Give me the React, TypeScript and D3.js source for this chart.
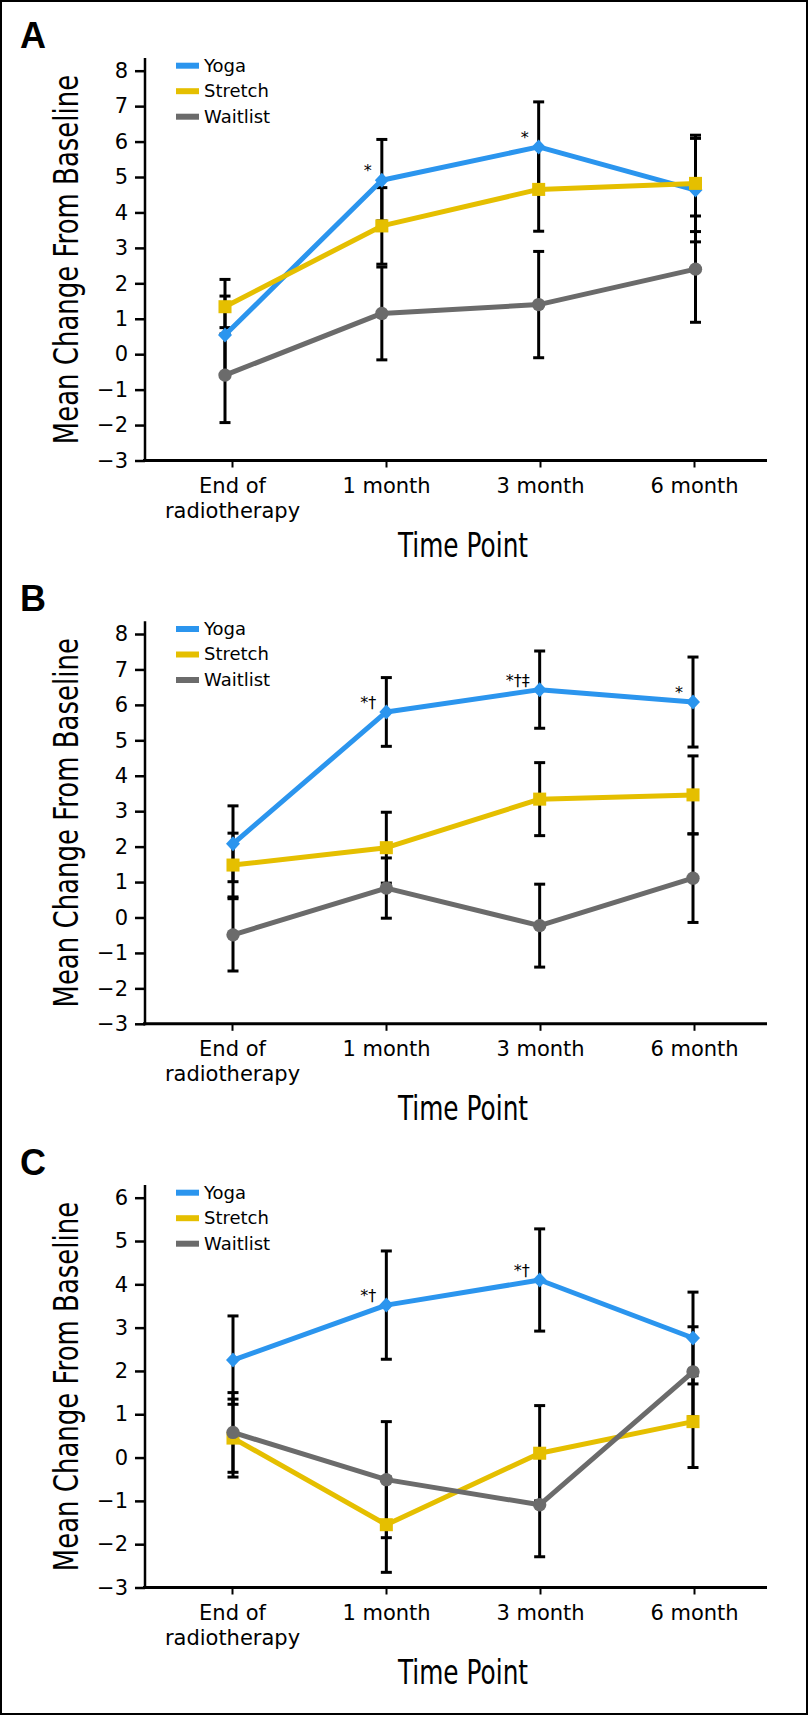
import React, { useEffect, useRef } from 'react';
import * as d3 from 'd3';

// Time points and group names
const timePoints = ['End of radiotherapy', '1 month', '3 month', '6 month'];
const timeLabels = [['End of', 'radiotherapy'], ['1 month'], ['3 month'], ['6 month']];
const groups = ['Yoga', 'Stretch', 'Waitlist'];

// Y tick values
const ticksAB = [-3, -2, -1, 0, 1, 2, 3, 4, 5, 6, 7, 8];
const ticksC = [-3, -2, -1, 0, 1, 2, 3, 4, 5, 6];

// Panel A
const yogaA = [0.54, 4.91, 5.85, 4.63];
const yogaErrA = [1.1, 1.15, 1.27, 1.46];
const stretchA = [1.34, 3.62, 4.65, 4.82];
const stretchErrA = [0.77, 1.08, 1.18, 1.36];
const waitlistA = [-0.59, 1.15, 1.4, 2.4];
const waitlistErrA = [1.34, 1.31, 1.5, 1.5];
const notesA = ['', '*', '*', ''];

// Panel B
const yogaB = [2.08, 5.8, 6.43, 6.08];
const yogaErrB = [1.07, 0.97, 1.09, 1.27];
const stretchB = [1.48, 1.97, 3.34, 3.46];
const stretchErrB = [0.9, 1.0, 1.03, 1.1];
const waitlistB = [-0.49, 0.83, -0.23, 1.11];
const waitlistErrB = [1.02, 0.85, 1.17, 1.25];
const notesB = ['', '*†', '*†‡', '*'];

// Panel C
const yogaC = [2.25, 3.52, 4.1, 2.76];
const yogaErrC = [1.02, 1.25, 1.18, 1.06];
const stretchC = [0.45, -1.55, 0.1, 0.83];
const stretchErrC = [0.9, 1.1, 1.1, 1.06];
const waitlistC = [0.58, -0.51, -1.09, 1.98];
const waitlistErrC = [0.92, 1.34, 1.2, 1.04];
const notesC = ['', '*†', '*†'];

const colors = ['#2b95ee', '#e5bf00', '#6b6b6b'];
const font = '"DejaVu Sans", Verdana, sans-serif';

const App = () => {
  const chartRef = useRef<SVGSVGElement>(null);

  useEffect(() => {
    const svg = d3.select(chartRef.current);
    svg.selectAll('*').remove();

    const panels = [
      { label: 'A', top: 0, ticks: ticksAB, means: [yogaA, stretchA, waitlistA], errs: [yogaErrA, stretchErrA, waitlistErrA], notes: notesA, dataRange: [225, 695.5] },
      { label: 'B', top: 563.3, ticks: ticksAB, means: [yogaB, stretchB, waitlistB], errs: [yogaErrB, stretchErrB, waitlistErrB], notes: notesB, dataRange: [233, 693] },
      { label: 'C', top: 1127, ticks: ticksC, means: [yogaC, stretchC, waitlistC], errs: [yogaErrC, stretchErrC, waitlistErrC], notes: notesC, dataRange: [233, 693] },
    ];

    // Outer frame
    svg.append('rect')
      .attr('x', 1).attr('y', 1)
      .attr('width', 806).attr('height', 1713)
      .attr('fill', '#fff')
      .attr('stroke', '#000')
      .attr('stroke-width', 2);

    const diamond = 'M0,-7.5L7,0L0,7.5L-7,0Z';
    const square = d3.symbol().type(d3.symbolSquare).size(170)();
    const circle = d3.symbol().type(d3.symbolCircle).size(140)();
    const shapes = [diamond, square, circle];

    panels.forEach(p => {
      const g = svg.append('g').attr('transform', `translate(0,${p.top})`);

      const y = d3.scaleLinear().domain([-3, d3.max(p.ticks) as number]).range([460.5, 70.7]);
      const xTick = d3.scalePoint().domain(timePoints).range([232, 694]);
      const x = d3.scalePoint().domain(timePoints).range(p.dataRange);

      // Panel letter
      g.append('text')
        .attr('x', 20).attr('y', 48)
        .style('font', 'bold 36px "Liberation Sans", Arial, sans-serif')
        .text(p.label);

      // Y axis
      const yAxis = g.append('g')
        .attr('transform', 'translate(145,0)')
        .call(d3.axisLeft(y).tickValues(p.ticks).tickSize(10).tickSizeOuter(0).tickPadding(7).tickFormat(d3.format('d')));
      yAxis.select('.domain').remove();
      yAxis.attr('font-size', 21).attr('font-family', font);
      yAxis.selectAll('line').attr('stroke', '#000').attr('stroke-width', 2.5);
      yAxis.selectAll('text').attr('fill', '#000');
      g.append('line')
        .attr('x1', 145).attr('x2', 145)
        .attr('y1', 58).attr('y2', 462)
        .attr('stroke', '#000').attr('stroke-width', 2.5);

      // X axis
      const xAxis = g.append('g')
        .attr('transform', 'translate(0,460.5)')
        .call(d3.axisBottom(xTick).tickSize(7).tickSizeOuter(0));
      xAxis.select('.domain').remove();
      xAxis.attr('font-size', 21).attr('font-family', font);
      xAxis.selectAll('line').attr('stroke', '#000').attr('stroke-width', 2);
      xAxis.selectAll('.tick text').each(function (d, i) {
        const t = d3.select(this);
        t.text(null).attr('y', 32.5).attr('dy', 0).attr('fill', '#000');
        timeLabels[i].forEach((line, j) => {
          t.append('tspan').attr('x', 0).attr('dy', j === 0 ? 0 : 25).text(line);
        });
      });
      g.append('line')
        .attr('x1', 143).attr('x2', 767)
        .attr('y1', 460.5).attr('y2', 460.5)
        .attr('stroke', '#000').attr('stroke-width', 3);

      // Axis titles (condensed by a horizontal scale)
      g.append('text')
        .attr('transform', 'translate(463,556.7) scale(0.73,1)')
        .attr('text-anchor', 'middle')
        .style('font-size', '34px').style('font-family', font)
        .text('Time Point');
      g.append('text')
        .attr('transform', 'translate(78,259.5) rotate(-90) scale(0.764,1)')
        .attr('text-anchor', 'middle')
        .style('font-size', '34px').style('font-family', font)
        .text('Mean Change From Baseline');

      // Error bars (under everything)
      p.means.forEach((vals, s) => {
        vals.forEach((v, i) => {
          const cx = x(timePoints[i]) as number;
          const e = p.errs[s][i];
          const eb = g.append('g').attr('stroke', '#000').attr('stroke-width', 3);
          eb.append('line').attr('x1', cx).attr('x2', cx).attr('y1', y(v + e)).attr('y2', y(v - e));
          [v + e, v - e].forEach(yy => {
            eb.append('line').attr('x1', cx - 5.5).attr('x2', cx + 5.5).attr('y1', y(yy)).attr('y2', y(yy));
          });
        });
      });

      // Lines and markers
      const line = d3.line<number>().x((d, i) => x(timePoints[i]) as number).y(d => y(d));
      p.means.forEach((vals, s) => {
        g.append('path')
          .datum(vals)
          .attr('d', line)
          .attr('fill', 'none')
          .attr('stroke', colors[s])
          .attr('stroke-width', 5)
          .attr('stroke-linejoin', 'round');
        g.selectAll(null)
          .data(vals)
          .enter()
          .append('path')
          .attr('d', shapes[s])
          .attr('transform', (d, i) => `translate(${x(timePoints[i])},${y(d)})`)
          .attr('fill', colors[s]);
      });

      // Significance marks
      p.notes.forEach((n, i) => {
        if (!n) return;
        g.append('text')
          .attr('x', (x(timePoints[i]) as number) - 10)
          .attr('y', y(p.means[0][i]) - 4)
          .attr('text-anchor', 'end')
          .style('font-size', '16px').style('font-family', font)
          .text(n);
      });

      // Legend
      groups.forEach((name, i) => {
        const ly = 65.7 + i * 25.5;
        g.append('line')
          .attr('x1', 176).attr('x2', 199)
          .attr('y1', ly).attr('y2', ly)
          .attr('stroke', colors[i]).attr('stroke-width', 6);
        g.append('text')
          .attr('x', 204).attr('y', ly + 6)
          .style('font-size', '18px').style('font-family', font)
          .text(name);
      });
    });
  }, []);

  return (
    <svg
      ref={chartRef}
      width={809}
      height={1715}
      style={{ display: 'block', position: 'absolute', left: 0, top: 0 }}
    />
  );
};

export default App;
